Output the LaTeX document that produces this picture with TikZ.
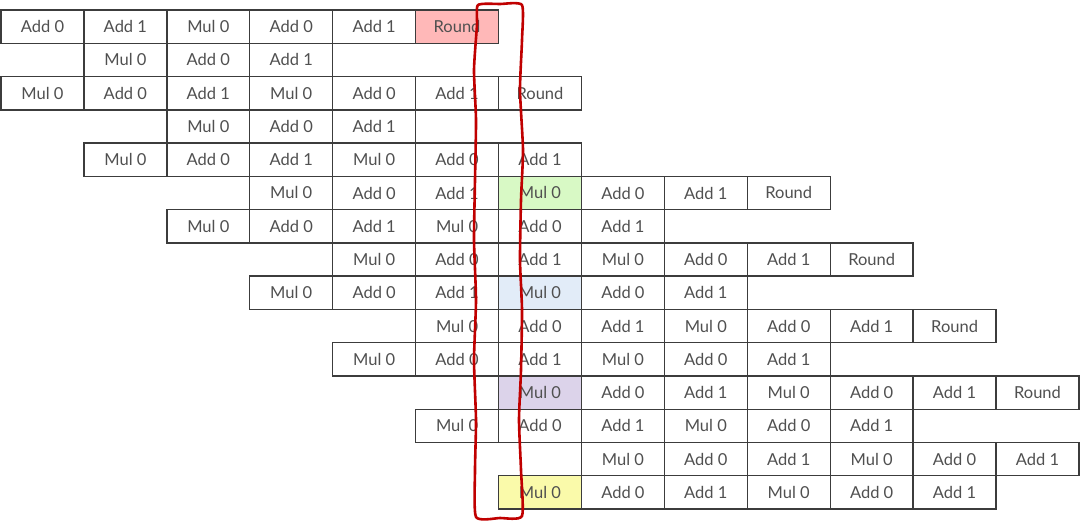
\documentclass[tikz,border=0pt]{standalone}
\usepackage{fontspec}
\setmainfont{Lato}
\definecolor{bordergray}{HTML}{3C3C3C}
\definecolor{textgray}{HTML}{505050}
\definecolor{fillred}{HTML}{FFB8B8}
\definecolor{fillgreen}{HTML}{D8F9C5}
\definecolor{fillblue}{HTML}{E2ECF8}
\definecolor{fillpurple}{HTML}{DCD3EA}
\definecolor{fillyellow}{HTML}{FAFAAA}
\definecolor{markred}{HTML}{C00000}
\newcommand\mkcell[4][white]{\node[cell, fill=#1] (c-#2-#3) at ({1+(#3+0.5)*82.92},{10+(#2+0.5)*33.27}) {#4};}
\begin{document}
\begin{tikzpicture}[x=1pt,y=-1pt,
  cell/.style={draw=bordergray, line width=1.4pt, minimum width=82.92pt, minimum height=33.27pt,
    inner sep=0pt, text=textgray, font=\fontsize{16.5}{19}\selectfont, anchor=center}]
\useasboundingbox (0,0) rectangle (1080,520);
\fill[white] (0,0) rectangle (1080,520);
% row 0
\foreach \c/\t in {0/Add 0,1/Add 1,2/Mul 0,3/Add 0,4/Add 1}{\mkcell{0}{\c}{\t}}
\mkcell[fillred]{0}{5}{Round}
% row 1
\foreach \c/\t in {1/Mul 0,2/Add 0,3/Add 1}{\mkcell{1}{\c}{\t}}
% row 2
\foreach \c/\t in {0/Mul 0,1/Add 0,2/Add 1,3/Mul 0,4/Add 0,5/Add 1,6/Round}{\mkcell{2}{\c}{\t}}
% row 3
\foreach \c/\t in {2/Mul 0,3/Add 0,4/Add 1}{\mkcell{3}{\c}{\t}}
% row 4
\foreach \c/\t in {1/Mul 0,2/Add 0,3/Add 1,4/Mul 0,5/Add 0,6/Add 1}{\mkcell{4}{\c}{\t}}
% row 5
\foreach \c/\t in {3/Mul 0,4/Add 0,5/Add 1,7/Add 0,8/Add 1,9/Round}{\mkcell{5}{\c}{\t}}
\mkcell[fillgreen]{5}{6}{Mul 0}
% row 6
\foreach \c/\t in {2/Mul 0,3/Add 0,4/Add 1,5/Mul 0,6/Add 0,7/Add 1}{\mkcell{6}{\c}{\t}}
% row 7
\foreach \c/\t in {4/Mul 0,5/Add 0,6/Add 1,7/Mul 0,8/Add 0,9/Add 1,10/Round}{\mkcell{7}{\c}{\t}}
% row 8
\foreach \c/\t in {3/Mul 0,4/Add 0,5/Add 1,7/Add 0,8/Add 1}{\mkcell{8}{\c}{\t}}
\mkcell[fillblue]{8}{6}{Mul 0}
% row 9
\foreach \c/\t in {5/Mul 0,6/Add 0,7/Add 1,8/Mul 0,9/Add 0,10/Add 1,11/Round}{\mkcell{9}{\c}{\t}}
% row 10
\foreach \c/\t in {4/Mul 0,5/Add 0,6/Add 1,7/Mul 0,8/Add 0,9/Add 1}{\mkcell{10}{\c}{\t}}
% row 11
\foreach \c/\t in {7/Add 0,8/Add 1,9/Mul 0,10/Add 0,11/Add 1,12/Round}{\mkcell{11}{\c}{\t}}
\mkcell[fillpurple]{11}{6}{Mul 0}
% row 12
\foreach \c/\t in {5/Mul 0,6/Add 0,7/Add 1,8/Mul 0,9/Add 0,10/Add 1}{\mkcell{12}{\c}{\t}}
% row 13
\foreach \c/\t in {7/Mul 0,8/Add 0,9/Add 1,10/Mul 0,11/Add 0,12/Add 1}{\mkcell{13}{\c}{\t}}
% row 14
\foreach \c/\t in {7/Add 0,8/Add 1,9/Mul 0,10/Add 0,11/Add 1}{\mkcell{14}{\c}{\t}}
\mkcell[fillyellow]{14}{6}{Mul 0}
% hand-drawn red marker box
\draw[markred, line width=2.6pt, line join=round, line cap=round]
  plot[smooth cycle, tension=0.35] coordinates {
   (478,5) (500,4) (522,5)
   (522,40) (520,90) (523,150) (521,200) (520,260) (522,310) (521,370) (519,420) (521,470) (522,516)
   (500,518) (476,517)
   (475,470) (476,420) (474,360) (476,300) (474,240) (475,180) (476,120) (474,70) (477,25)};
\end{tikzpicture}
\end{document}
